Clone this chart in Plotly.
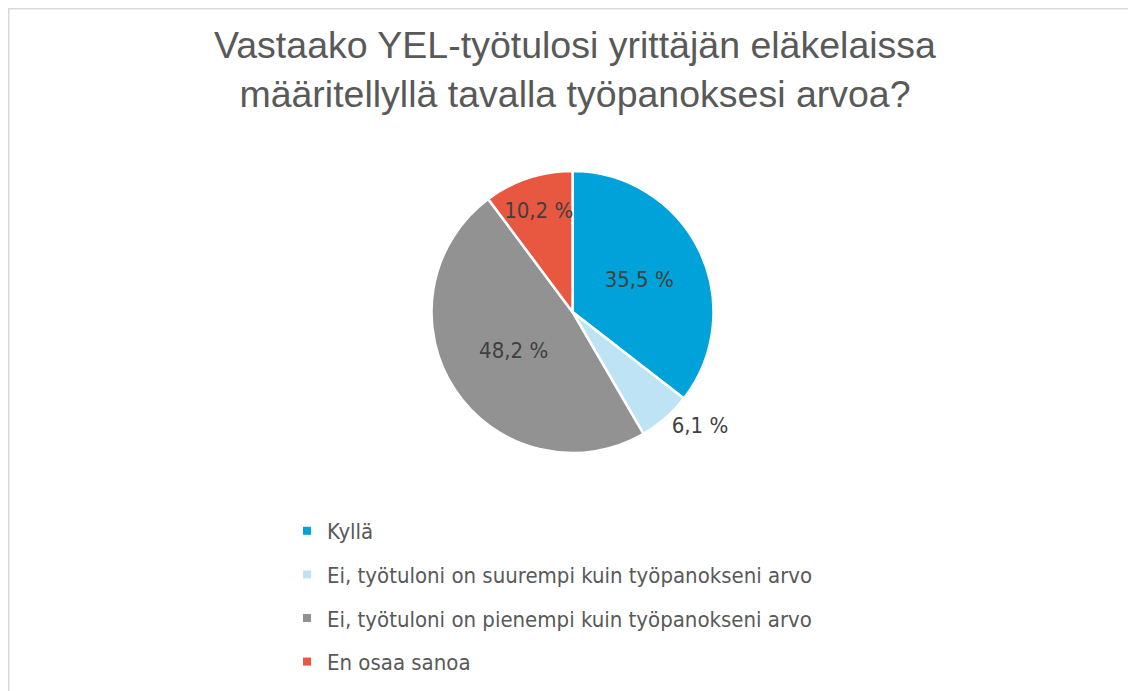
import plotly.graph_objects as go

# ---- data ----
categories = [
    "Kyllä",
    "Ei, työtuloni on suurempi kuin työpanokseni arvo",
    "Ei, työtuloni on pienempi kuin työpanokseni arvo",
    "En osaa sanoa",
]
shares = [35.5, 6.1, 48.2, 10.2]
share_labels = ["35,5 %", "6,1 %", "48,2 %", "10,2 %"]
colors = ["#00A2DA", "#BDE3F5", "#929292", "#E8573F"]
text_positions = ["inside", "outside", "inside", "inside"]

title_text = "Vastaako YEL-työtulosi yrittäjän eläkelaissa<br>määritellyllä tavalla työpanoksesi arvoa?"

# the page body has an 8px margin, so the figure is laid out in page pixels minus 8
OFF = 8
W, H = 1136 - OFF, 691 - OFF
body_font = "DejaVu Sans Condensed, DejaVu Sans, sans-serif"


def px(x):
    return (x - OFF) / W


def py(y):
    return 1 - (y - OFF) / H


fig = go.Figure()

fig.add_trace(go.Pie(
    labels=categories,
    values=shares,
    text=share_labels,
    texttemplate="%{text}",
    textposition=text_positions,
    insidetextorientation="horizontal",
    sort=False,
    direction="clockwise",
    rotation=0,
    marker=dict(colors=colors, line=dict(color="white", width=2.5)),
    textfont=dict(family=body_font, size=22, color="#404040"),
    showlegend=False,
    hoverinfo="label+percent",
    domain=dict(x=[px(431), px(714)], y=[py(453), py(171)]),
))

# legend entries (one group per category so the spacing can be set)
for cat, col in zip(categories, colors):
    fig.add_trace(go.Scatter(
        x=[None], y=[None], mode="markers", name=cat,
        legendgroup=cat,
        marker=dict(symbol="square", size=8, color=col),
        showlegend=True, hoverinfo="skip",
    ))

fig.update_layout(
    width=W, height=H,
    margin=dict(l=0, r=0, t=0, b=0),
    paper_bgcolor="white", plot_bgcolor="white",
    xaxis=dict(visible=False), yaxis=dict(visible=False),
    title=dict(
        text=title_text,
        x=px(575), xanchor="center",
        y=1 - 50 / H, yanchor="top", yref="container",
        font=dict(family="Liberation Sans, Arial, sans-serif", size=37.5, color="#595959"),
    ),
    uniformtext=dict(minsize=22, mode="show"),
    legend=dict(
        x=px(287), xanchor="left",
        y=1 - 502 / H, yanchor="top",
        font=dict(family=body_font, size=22, color="#595959"),
        tracegroupgap=12,
        bgcolor="rgba(0,0,0,0)",
    ),
    shapes=[dict(
        type="rect", xref="paper", yref="paper",
        x0=0.75 / W, x1=px(1134.5), y0=-0.1, y1=1 - 0.75 / H,
        line=dict(color="#D9D9D9", width=1.5), fillcolor="rgba(0,0,0,0)",
        layer="below",
    )],
)

fig.write_html("out.html")
